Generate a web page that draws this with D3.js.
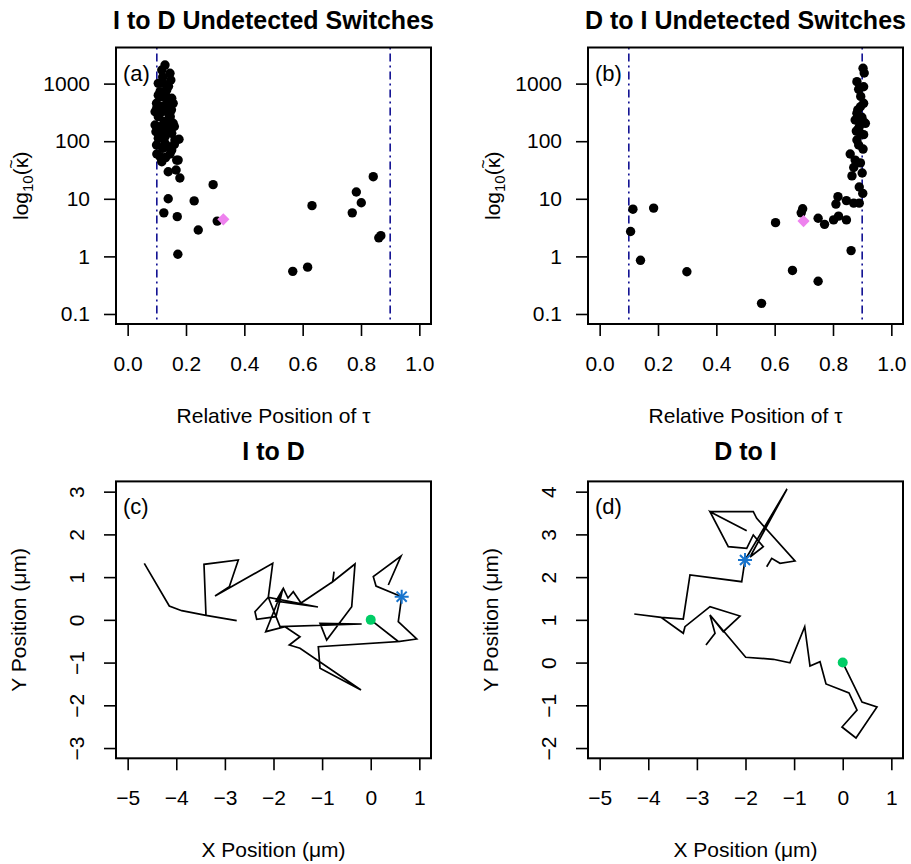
<!DOCTYPE html>
<html><head><meta charset="utf-8">
<script src="https://cdn.jsdelivr.net/npm/d3@7"></script>
<style>body{margin:0;background:#fff}</style>
</head><body>
<svg id="fig" width="911" height="864"></svg>
<script>
// ---- switch positions (relative position of tau) and kappa estimates ----
const idPos = [0.128,0.145,0.148,0.117,0.105,0.134,0.122,0.151,0.117,0.099,0.134,0.146,0.156,0.105,0.094,0.122,0.151,0.099,0.128,0.151,0.111,0.168,0.117,0.094,0.134,0.111,0.139,0.128,0.162,0.097,0.111,0.146,0.105,0.139,0.156,0.111,0.12,0.14,0.13,0.10,0.12,0.14,0.125,0.105,0.16,0.12,0.10,0.145,0.13,0.16,0.115,0.14,0.15,
  0.176,0.173,0.139,0.117,0.166,0.179,0.293,0.139,0.228,0.124,0.170,0.242,0.307,0.172,0.632,0.566,0.617,0.842,0.784,0.801,0.770,0.868,0.861];
const idKappa = [2100,1510,1155,1720,1010,774,1010,556,593,455,348,267,205,267,191,156,137,86,92,70,54,47,44,325,455,724,233,120,105,146,179,156,112,80,455,305,1300,900,620,380,400,300,220,630,180,75,60,60,52,88,130,190,350,
  108,47,29.5,47,31.6,23,17.6,10,9.2,5.7,4.9,2.87,4.1,1.09,7.6,0.55,0.65,24.2,13.1,8.55,5.7,2.29,2.1];
const idMeanPos = 0.328, idMeanKappa = 4.4;

const diPos = [0.903,0.907,0.882,0.888,0.905,0.905,0.894,0.882,0.876,0.905,0.888,0.911,0.894,0.882,0.888,0.903,0.859,0.876,0.894,0.871,0.865,0.900,0.890,0.902,0.895,0.885,0.899,0.892,0.880,0.905,
  0.114,0.185,0.106,0.140,0.299,0.603,0.696,0.691,0.749,0.771,0.802,0.819,0.846,0.817,0.810,0.846,0.871,0.890,0.862,0.661,0.749,0.555];
const diKappa = [1845,1530,1080,796,883,455,397,305,233,218,167,204,137,105,86,73,60,47,42,35,25,28,16,12.4,600,350,260,190,150,130,
  6.6,6.9,2.7,0.855,0.54,3.85,6.7,5.7,4.6,3.6,4.3,5.0,4.3,10.9,8.1,9.3,8.4,8.4,1.26,0.57,0.37,0.153];
const diMeanPos = 0.699, diMeanKappa = 4.1;

const posTicks = [0, 0.2, 0.4, 0.6, 0.8, 1.0];
const kappaTicks = [0.1, 1, 10, 100, 1000];
const windowEdges = [0.1, 0.9];

// ---- example trajectories (micrometres) ----
const idTrackX = [-4.658,-4.144,-3.888,-3.389,-2.757,-3.389,-3.430,-2.724,-2.909,-3.203,-2.016,-2.107,-1.085,-1.949,-1.798,-1.702,-1.593,-1.434,-0.782,-0.755,-0.782,-0.323,-0.391,-0.906,-1.043,-0.186,-1.866,-2.107,-2.381,-2.346,-1.949,-1.811,-2.160,-1.763,-1.455,-1.675,-1.455,-0.200,-1.043,-1.078,0.567,0,0.567,0.946,0.567,0.637,0.109,0.053,0.623,0.362];
const idTrackY = [1.323,0.324,0.214,0.106,-0.020,0.106,1.300,1.401,0.776,0.558,1.323,0.528,0.301,0.441,0.738,0.511,0.659,0.394,0.893,1.127,0.893,1.307,0.308,-0.472,-0.081,-0.097,-0.160,0.528,0.191,0.013,0.074,0.715,-0.277,-0.160,-0.394,-0.589,-0.666,-1.642,-1.134,-0.628,-0.507,0,-0.507,-0.448,-0.043,0.542,0.792,1.010,1.494,0.816];
const idSwitch = [0.637, 0.542];

const diTrackX = [-1.564,-1.461,-1.290,-0.982,-1.770,-1.840,-2.730,-1.975,-2.730,-2.354,-1.975,-1.840,-1.634,-1.907,-1.146,-2.010,-2.078,-3.142,-3.280,-3.738,-4.288,-3.738,-3.280,-3.245,-2.730,-2.113,-2.457,-2.730,-2.627,-2.813,-2.627,-2.730,-1.996,-1.428,-1.085,-0.782,-0.673,-0.467,-0.344,0.129,0.294,-0.015,0.273,0.705,0.397,0];
const diTrackY = [2.244,2.440,2.323,2.377,3.377,3.531,3.531,3.086,3.531,2.712,2.674,2.986,2.712,2.471,4.062,2.401,1.893,2.050,1.020,1.060,1.137,1.060,0.685,0.840,1.308,1.090,0.723,1.113,0.685,0.411,0.685,1.113,0.124,0.077,-0.003,0.840,-0.080,0.021,-0.501,-0.712,-1.110,-1.508,-1.765,-1.040,-0.923,0];
const diSwitch = [-2.010, 2.401];

const trackXTicks = [-5,-4,-3,-2,-1,0,1];
const idTrackYTicks = [-3,-2,-1,0,1,2,3];
const diTrackYTicks = [-2,-1,0,1,2,3,4];

// ---- drawing ----
const FONT = "'Liberation Sans', Arial, Helvetica, sans-serif";
const svg = d3.select("#fig");
svg.append("rect").attr("width", 911).attr("height", 864).attr("fill", "#fff");

function panel(opt) {
  const g = svg.append("g");
  const x = opt.x, y = opt.y;
  const [x0, x1] = x.range(), [y1, y0] = y.range();

  const ax = g.append("g").attr("transform", `translate(0,${y1})`)
    .call(d3.axisBottom(x).tickValues(opt.xTicks).tickSize(12).tickPadding(20).tickFormat(opt.xFmt));
  const ay = g.append("g").attr("transform", `translate(${x0},0)`)
    .call(d3.axisLeft(y).tickValues(opt.yTicks).tickSize(12).tickPadding(14).tickFormat(opt.yFmt));
  [ax, ay].forEach(a => {
    a.select(".domain").remove();
    a.selectAll("line").attr("stroke", "#000").attr("stroke-width", 1.6);
    a.selectAll("text").attr("font-family", FONT).attr("font-size", 21).attr("fill", "#000");
  });
  if (opt.rotY) {
    ay.selectAll(".tick text").attr("transform", "rotate(-90)")
      .attr("text-anchor", "middle").attr("x", 0).attr("y", -32).attr("dy", "0");
  }

  const id = "clip" + opt.tag;
  svg.append("clipPath").attr("id", id).append("rect")
    .attr("x", x0).attr("y", y0).attr("width", x1 - x0).attr("height", y1 - y0);
  const body = g.append("g").attr("clip-path", `url(#${id})`);
  opt.draw(body, x, y);

  g.append("rect").attr("x", x0).attr("y", y0).attr("width", x1 - x0).attr("height", y1 - y0)
    .attr("fill", "none").attr("stroke", "#000").attr("stroke-width", 2);

  g.append("text").attr("x", (x0 + x1) / 2).attr("y", opt.titleY)
    .attr("text-anchor", "middle").attr("font-family", FONT).attr("font-weight", "bold")
    .attr("font-size", 25).text(opt.title);
  g.append("text").attr("x", x0 + 7).attr("y", y0 + 33)
    .attr("font-family", FONT).attr("font-size", 22).text(opt.tagText);
  const xl = g.append("text").attr("x", (x0 + x1) / 2).attr("y", y1 + 99)
    .attr("text-anchor", "middle").attr("font-family", FONT).attr("font-size", 21);
  opt.xLabel(xl);
  const yl = g.append("text").attr("transform", `translate(${x0 - opt.yLabDx},${(y0 + y1) / 2}) rotate(-90)`)
    .attr("text-anchor", "middle").attr("font-family", FONT).attr("font-size", 21);
  opt.yLabel(yl);
}

const fmtPos = d3.format(".1f");
const fmtKappa = d => d < 1 ? "0.1" : String(d);

function scatter(pos, kappa, mPos, mKappa) {
  return (b, x, y) => {
    windowEdges.forEach(e => b.append("line")
      .attr("x1", x(e)).attr("x2", x(e)).attr("y1", y.range()[1]).attr("y2", y.range()[0])
      .attr("stroke", "#00008B").attr("stroke-width", 1.5).attr("stroke-dasharray", "2,4,8,4"));
    b.selectAll("circle.pt").data(d3.range(pos.length)).join("circle").attr("class", "pt")
      .attr("cx", i => x(pos[i])).attr("cy", i => y(kappa[i])).attr("r", 4.7).attr("fill", "#000");
    b.append("path").attr("d", d3.symbol(d3.symbolDiamond2, 95)())
      .attr("transform", `translate(${x(mPos)},${y(mKappa)})`).attr("fill", "#EE82EE");
  };
}

function track(xs, ys, sw) {
  return (b, x, y) => {
    const pts = xs.map((v, i) => [v, ys[i]]);
    b.append("path").attr("d", d3.line().x(d => x(d[0])).y(d => y(d[1]))(pts))
      .attr("fill", "none").attr("stroke", "#000").attr("stroke-width", 1.7).attr("stroke-linejoin", "miter");
    b.append("circle").attr("cx", x(0)).attr("cy", y(0)).attr("r", 5).attr("fill", "#00CD66");
    const sx = x(sw[0]), sy = y(sw[1]), s = 7;
    const st = b.append("g").attr("stroke", "#1874CD").attr("stroke-width", 2);
    [[-s, 0, s, 0], [0, -s, 0, s], [-s * 0.72, -s * 0.72, s * 0.72, s * 0.72], [-s * 0.72, s * 0.72, s * 0.72, -s * 0.72]]
      .forEach(l => st.append("line").attr("x1", sx + l[0]).attr("y1", sy + l[1]).attr("x2", sx + l[2]).attr("y2", sy + l[3]));
  };
}

const kappaLabel = t => {
  t.append("tspan").text("log");
  t.append("tspan").attr("font-size", 15).attr("dy", 5).text("10");
  t.append("tspan").attr("dy", -5).text("(κ");
  t.append("tspan").attr("font-size", 16).attr("dx", -11).attr("dy", -11).text("~");
  t.append("tspan").attr("dx", 1).attr("dy", 11).text(")");
};
const tauLabel = t => t.text("Relative Position of τ");
const xPosLabel = t => t.text("X Position (μm)");
const yPosLabel = t => t.text("Y Position (μm)");

const logDomain = [Math.pow(10, -1.174), Math.pow(10, 3.627)];
const trackX = r => d3.scaleLinear([-5.24, 1.24], r);

panel({tag: "a", title: "I to D Undetected Switches", tagText: "(a)", titleY: 29,
  x: d3.scaleLinear([-0.04, 1.04], [116, 431]), y: d3.scaleLog(logDomain, [324, 47.5]),
  xTicks: posTicks, yTicks: kappaTicks, xFmt: fmtPos, yFmt: fmtKappa,
  yLabDx: 88, xLabel: tauLabel, yLabel: kappaLabel,
  draw: scatter(idPos, idKappa, idMeanPos, idMeanKappa)});
panel({tag: "b", title: "D to I Undetected Switches", tagText: "(b)", titleY: 29,
  x: d3.scaleLinear([-0.04, 1.04], [588, 903]), y: d3.scaleLog(logDomain, [324, 47.5]),
  xTicks: posTicks, yTicks: kappaTicks, xFmt: fmtPos, yFmt: fmtKappa,
  yLabDx: 88, xLabel: tauLabel, yLabel: kappaLabel,
  draw: scatter(diPos, diKappa, diMeanPos, diMeanKappa)});
panel({tag: "c", title: "I to D", tagText: "(c)", titleY: 460, rotY: true,
  x: trackX([116, 431]), y: d3.scaleLinear([-3.24, 3.24], [758.3, 481.4]),
  xTicks: trackXTicks, yTicks: idTrackYTicks, xFmt: d3.format("d"), yFmt: d3.format("d"),
  yLabDx: 90, xLabel: xPosLabel, yLabel: yPosLabel,
  draw: track(idTrackX, idTrackY, idSwitch)});
panel({tag: "d", title: "D to I", tagText: "(d)", titleY: 460, rotY: true,
  x: trackX([588, 903]), y: d3.scaleLinear([-2.24, 4.24], [758.3, 481.4]),
  xTicks: trackXTicks, yTicks: diTrackYTicks, xFmt: d3.format("d"), yFmt: d3.format("d"),
  yLabDx: 90, xLabel: xPosLabel, yLabel: yPosLabel,
  draw: track(diTrackX, diTrackY, diSwitch)});
</script>
</body></html>
